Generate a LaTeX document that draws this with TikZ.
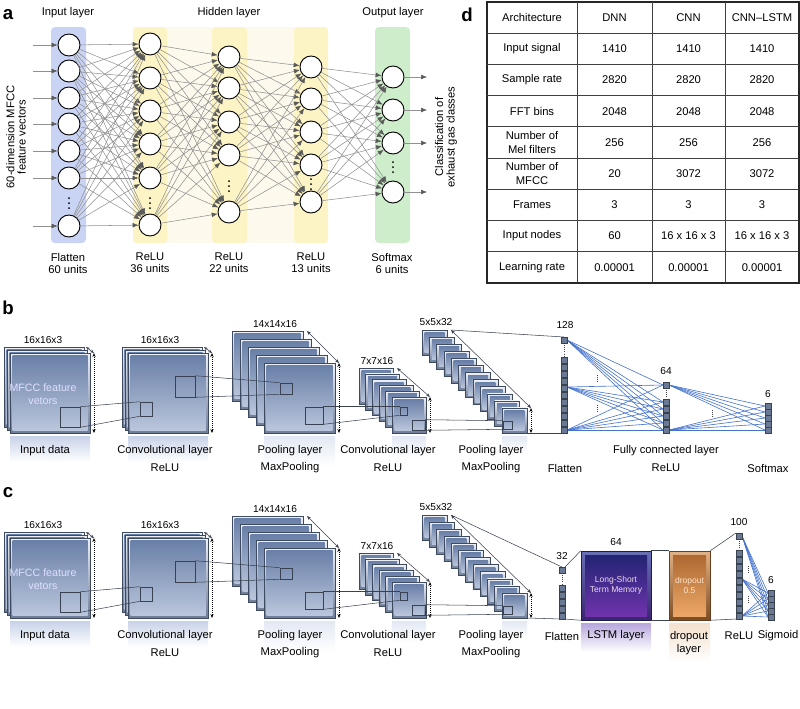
\documentclass[tikz,border=0pt]{standalone}
\usepackage{fontspec}
\setmainfont{Liberation Sans}
\usetikzlibrary{arrows.meta}

\definecolor{inband}{HTML}{C9D3F4}
\definecolor{hidband}{HTML}{FCF4C4}
\definecolor{hidbg}{HTML}{FDF9EC}
\definecolor{outband}{HTML}{CDEDCB}
\definecolor{linkgray}{HTML}{909090}
\definecolor{tipgray}{HTML}{5A5A5A}
\definecolor{sheetedge}{HTML}{3E4A60}
\definecolor{rimtop}{HTML}{EEF1F6}
\definecolor{rimbot}{HTML}{6F7D98}
\definecolor{facetop}{HTML}{6A80A8}
\definecolor{facebot}{HTML}{BAC6DC}
\definecolor{fcblue}{HTML}{4472CC}
\definecolor{unitfill}{HTML}{6A7A95}
\definecolor{unitedge}{HTML}{39424F}
\definecolor{wireline}{HTML}{3A4150}
\definecolor{glowblue}{HTML}{C8D2E8}
\definecolor{glowpale}{HTML}{E2E8F3}
\definecolor{lstmedge}{HTML}{1A1D4D}
\definecolor{lstmrimtop}{HTML}{6870B8}
\definecolor{lstmrimbot}{HTML}{3B2470}
\definecolor{lstmtop}{HTML}{1E2470}
\definecolor{lstmbot}{HTML}{7434B0}
\definecolor{lstmglow}{HTML}{B8A6DC}
\definecolor{dropedge}{HTML}{6B3F1E}
\definecolor{droprimtop}{HTML}{E2B387}
\definecolor{droprimbot}{HTML}{7B4B24}
\definecolor{droptop}{HTML}{A9652E}
\definecolor{dropbot}{HTML}{F0AA6A}
\definecolor{dropglow}{HTML}{F5E0CC}

% one feature map sheet: x, y, width, height (px)
\newcommand\cnnsheet[4]{%
  \path[draw=sheetedge, line width=0.35pt, top color=rimtop, bottom color=rimbot]
    (#1,#2) rectangle ++(#3,#4);
  \path[top color=facetop, bottom color=facebot]
    ({#1+2.5},{#2+2.5}) rectangle ++({#3-5},{#4-5});
}
% one unit of a dense column, centred at x, y
\newcommand\fcunit[2]{%
  \path[draw=unitedge, line width=0.3pt, fill=unitfill]
    ({#1-3},{#2-2.7}) rectangle ++(6,5.4);
}
% three vertical dots, centred at x, y
\newcommand\skipdots[2]{%
  \foreach \dd in {-5,0,5} \fill ({#1},{#2+\dd}) circle (0.75pt);
}

\begin{document}
\begin{tikzpicture}[
    x=0.75pt, y=-0.75pt,
    every node/.style={font=\fontsize{8.4}{9.5}\selectfont, inner sep=1pt},
    small/.style={font=\fontsize{7.6}{9}\selectfont},
    panel/.style={font=\fontsize{14}{16}\selectfont\bfseries},
    neuron/.style={circle, draw=black, fill=white, line width=0.7pt,
                   minimum size=16.5pt, inner sep=0pt},
    link/.style={draw=linkgray, line width=0.4pt,
                 -{Latex[length=4.5pt,width=3.6pt,color=tipgray]}},
    band/.style={rounded corners=3pt},
    win/.style={draw=wireline, line width=0.45pt, inner sep=0pt},
    wire/.style={draw=wireline, line width=0.4pt},
    dimarrow/.style={densely dotted, line width=0.5pt,
                     {Stealth[length=3pt,width=2.4pt]}-{Stealth[length=3pt,width=2.4pt]}},
    diag/.style={draw=wireline, line width=0.4pt,
                 {Stealth[length=3pt,width=2.4pt]}-{Stealth[length=3pt,width=2.4pt]}},
    fc/.style={draw=fcblue, line width=0.45pt},
    dotline/.style={densely dotted, line width=0.6pt, draw=black!75},
    cell/.style={align=center, font=\fontsize{8.4}{10}\selectfont},
    mfcc/.style={align=center, text=white!88!blue, font=\fontsize{8}{9.5}\selectfont},
    glow/.style={top color=glowblue, bottom color=white},
    faint/.style={top color=glowpale, bottom color=white},
    lstmbox/.style={minimum width=52.5pt, minimum height=51.75pt, inner sep=0pt,
                    draw=lstmedge, top color=lstmrimtop, bottom color=lstmrimbot,
                    path picture={\fill[top color=lstmtop, bottom color=lstmbot]
                      ([shift={(3pt,-3pt)}]path picture bounding box.north west) rectangle
                      ([shift={(-3pt,3pt)}]path picture bounding box.south east);},
                    text=white!85!violet, align=center, font=\fontsize{6.4}{7.6}\selectfont},
    dropbox/.style={minimum width=30.75pt, minimum height=51.75pt, inner sep=0pt,
                    draw=dropedge, top color=droprimtop, bottom color=droprimbot,
                    path picture={\fill[top color=droptop, bottom color=dropbot]
                      ([shift={(3pt,-3pt)}]path picture bounding box.north west) rectangle
                      ([shift={(-3pt,3pt)}]path picture bounding box.south east);},
                    text=white!80!orange, align=center, font=\fontsize{6.4}{7.6}\selectfont}
  ]
  \useasboundingbox (0,0) rectangle (800,708);

  % ---------------- a: dense network ----------------
  \node[panel] (tagA) at (8,15) {a};
  \fill[hidbg] (133,27) rectangle (328,243);
  \fill[inband, band] (51,27) rectangle (86,243);
  \fill[hidband, band] (133,27) rectangle (167,243);
  \fill[hidband, band] (212,27) rectangle (247,243);
  \fill[hidband, band] (294,27) rectangle (328,243);
  \fill[outband, band] (375,27) rectangle (410,243);

  \node (inhead) at (68,13) {Input layer};
  \node (hidhead) at (229,13) {Hidden layer};
  \node (outhead) at (393,13) {Output layer};

  \foreach \y [count=\k] in {45,71,98,124,151,178,226} {
    \node[neuron] (inp\k) at (69,\y) {};
    \coordinate (src\k) at (33,\y);
  }
  \foreach \y [count=\k] in {44,78,111,144,178,225}
    \node[neuron] (hida\k) at (150,\y) {};
  \foreach \y [count=\k] in {57,88,122,155,212}
    \node[neuron] (hidb\k) at (229,\y) {};
  \foreach \y [count=\k] in {67,99,132,165,202}
    \node[neuron] (hidc\k) at (311,\y) {};
  \foreach \y [count=\k] in {77,110,143,192} {
    \node[neuron] (outp\k) at (393,\y) {};
    \coordinate (dst\k) at (427,\y);
  }
  \skipdots{69}{203}
  \skipdots{150}{203}
  \skipdots{229}{186}
  \skipdots{311}{184}
  \skipdots{393}{167}

  \foreach \k in {1,...,7} \draw[link] (src\k) -- (inp\k);
  \foreach \i in {1,...,7} \foreach \j in {1,...,6} \draw[link] (inp\i) -- (hida\j);
  \foreach \i in {1,...,6} \foreach \j in {1,...,5} \draw[link] (hida\i) -- (hidb\j);
  \foreach \i in {1,...,5} \foreach \j in {1,...,5} \draw[link] (hidb\i) -- (hidc\j);
  \foreach \i in {1,...,5} \foreach \j in {1,...,4} \draw[link] (hidc\i) -- (outp\j);
  \foreach \k in {1,...,4} \draw[link] (outp\k) -- (dst\k);

  \node[rotate=90, align=center, font=\fontsize{8.4}{8.6}\selectfont] (featlab) at (16,137)
    {60-dimension MFCC\\feature vectors};
  \node[rotate=90, align=center, font=\fontsize{8.4}{8.6}\selectfont] (classlab) at (446,137)
    {Classification of\\exhaust gas classes};
  \node[align=center, font=\fontsize{8.4}{9}\selectfont] (inpfoot) at (68,263) {Flatten\\60 units};
  \node[align=center, font=\fontsize{8.4}{9}\selectfont] (hidafoot) at (150,263) {ReLU\\36 units};
  \node[align=center, font=\fontsize{8.4}{9}\selectfont] (hidbfoot) at (229,263) {ReLU\\22 units};
  \node[align=center, font=\fontsize{8.4}{9}\selectfont] (hidcfoot) at (311,263) {ReLU\\13 units};
  \node[align=center, font=\fontsize{8.4}{9}\selectfont] (outpfoot) at (392,263) {Softmax\\6 units};

  % ---------------- d: table ----------------
  \node[panel] (tagD) at (467,15) {d};
  \draw[line width=0.9pt, draw=black!85] (487,2) rectangle (799,283);
  \foreach \xx in {577,652,725} \draw[line width=0.5pt, draw=black!75] (\xx,2) -- (\xx,283);
  \foreach \r in {1,...,8} \draw[line width=0.5pt, draw=black!75] (487,{2+31.2*\r}) -- (799,{2+31.2*\r});
  \foreach \a/\b/\c/\d [count=\r] in {
      Architecture/DNN/CNN/CNN--LSTM,
      Input signal/1410/1410/1410,
      Sample rate/2820/2820/2820,
      FFT bins/2048/2048/2048,
      {Number of\\Mel filters}/256/256/256,
      {Number of\\MFCC}/20/3072/3072,
      Frames/3/3/3,
      Input nodes/60/16 x 16 x 3/16 x 16 x 3,
      Learning rate/0.00001/0.00001/0.00001} {
    \node[cell] (tab\r-a) at (532,{2+31.2*(\r-0.5)}) {\a};
    \node[cell] (tab\r-b) at (614.5,{2+31.2*(\r-0.5)}) {\b};
    \node[cell] (tab\r-c) at (688.5,{2+31.2*(\r-0.5)}) {\c};
    \node[cell] (tab\r-d) at (762,{2+31.2*(\r-0.5)}) {\d};
  }

  % ---------------- b, c: shared convolution part ----------------
  \foreach \p/\o in {b/0,c/185} {
    \begin{scope}[shift={(0,\o)}]
      \node[panel] (\p tag) at (8,308) {\p};
      \fill[glow] (10,436) rectangle (90,462);
      \fill[glow] (128,436) rectangle (208,462);
      \fill[faint] (264,436) rectangle (335,466);
      \fill[faint] (392,436) rectangle (426,458);
      \fill[faint] (502,436) rectangle (527,452);

      % input data
      \foreach \k in {0,1,2} {\cnnsheet{4+3*\k}{347+3*\k}{80}{80}}
      \node[small] (\p indim) at (43,340) {16x16x3};
      \node[mfcc] (\p intxt) at (43,394) {MFCC feature\\vetors};
      \node[win, minimum width=15pt, minimum height=15pt] (\p inwin) at (70,417) {};
      \draw[diag] (86,347) -- (94,353);
      \draw[dimarrow] (94,353) -- (94,433);
      \node (\p inlab) at (45,451) {Input data};

      % first convolution
      \foreach \k in {0,1,2} {\cnnsheet{122+3*\k}{347+3*\k}{80}{80}}
      \node[small] (\p convdim) at (160,340) {16x16x3};
      \node[win, minimum width=9pt, minimum height=10.5pt] (\p convwin) at (146,409) {};
      \node[win, minimum width=15pt, minimum height=15.75pt] (\p convbig) at (185,386.5) {};
      \draw[diag] (204,347) -- (212,353);
      \draw[dimarrow] (212,353) -- (212,433);
      \node (\p convlab) at (165,451) {Convolutional layer};
      \node (\p convact) at (165,468) {ReLU};

      % first pooling
      \foreach \k in {0,...,4} {\cnnsheet{232+8*\k}{331+8*\k}{71}{70}}
      \node[small] (\p pooldim) at (275,324) {14x14x16};
      \node[win, minimum width=9pt, minimum height=8.25pt] (\p poolwin) at (286,388.5) {};
      \node[win, minimum width=13.5pt, minimum height=12.75pt] (\p poolbig) at (314,415.5) {};
      \draw[diag] (307,331) -- (339,363);
      \draw[dimarrow] (339,363) -- (339,433);
      \node (\p poollab) at (290,451) {Pooling layer};
      \node (\p poolact) at (290,468) {MaxPooling};

      % second convolution
      \foreach \k in {0,...,5} {\cnnsheet{359+6.6*\k}{368+5.8*\k}{34}{36}}
      \node[small] (\p convbdim) at (377,361) {7x7x16};
      \node[win, minimum width=5.25pt, minimum height=6pt] (\p convbwin) at (403.5,411) {};
      \node[win, minimum width=9.75pt, minimum height=7.5pt] (\p convbbig) at (418.5,425) {};
      \draw[diag] (397,368) -- (430,397);
      \draw[dimarrow] (430,397) -- (430,433);
      \node (\p convblab) at (388,451) {Convolutional layer};
      \node (\p convbact) at (388,468) {ReLU};

      % second pooling
      \foreach \k in {0,...,11} {\cnnsheet{422+7.27*\k}{330+7.09*\k}{25}{25}}
      \node[small] (\p poolbdim) at (436,322) {5x5x32};
      \node[win, minimum width=6.75pt, minimum height=6pt] (\p poolbwin) at (507.5,425) {};
      \draw[diag] (451,330) -- (531,408);
      \draw[dimarrow] (531,408) -- (531,433);
      \node (\p poolblab) at (491,451) {Pooling layer};
      \node (\p poolbact) at (491,468) {MaxPooling};
      \coordinate (\p pooltop) at (451,330);
      \coordinate (\p poolbot) at (527,433);

      \draw[wire] (\p inwin.north east) -- (\p convwin.north west);
      \draw[wire] (\p inwin.south east) -- (\p convwin.south west);
      \draw[wire] (\p convbig.north east) -- (\p poolwin.north west);
      \draw[wire] (\p convbig.south east) -- (\p poolwin.south west);
      \draw[wire] (\p poolbig.north east) -- (\p convbwin.north west);
      \draw[wire] (\p poolbig.south east) -- (\p convbwin.south west);
      \draw[wire] (\p convbbig.north east) -- (\p poolbwin.north west);
      \draw[wire] (\p convbbig.south east) -- (\p poolbwin.south west);
    \end{scope}
  }

  % ---------------- b: dense head ----------------
  \coordinate (bflattop) at (564,337);
  \coordinate (bflatbot) at (564,433);
  \draw[wire] (bpooltop) -- (bflattop);
  \draw[wire] (bpoolbot) -- (bflatbot);
  \foreach \y [count=\k] in {340,387,430} \coordinate (bf\k) at (567,\y);
  \foreach \y [count=\k] in {385,402,409,416,423,430} \coordinate (br\k) at (663,\y);
  \coordinate (brs1) at (669,385);
  \coordinate (brs2) at (669,430);
  \foreach \y [count=\k] in {406,412,418,424,430} \coordinate (bs\k) at (765,\y);
  \foreach \i in {1,2,3} \foreach \j in {1,...,6} \draw[fc] (bf\i) -- (br\j);
  \foreach \i in {1,2} \foreach \j in {1,...,5} \draw[fc] (brs\i) -- (bs\j);
  \foreach \y in {340,360,367,374,381,388,395,402,409,416,423,430} {\fcunit{564}{\y}}
  \foreach \y in {385,402,409,416,423,430} {\fcunit{666}{\y}}
  \foreach \y in {406,412,418,424,430} {\fcunit{768}{\y}}
  \draw[dotline] (564,345) -- (564,356);
  \draw[dotline] (666,390) -- (666,398);
  \draw[dotline] (597,375) -- (597,383);
  \draw[dotline] (597,405) -- (597,413);
  \draw[dotline] (712,410) -- (712,418);
  \node[small] (bflatdim) at (565,325) {128};
  \node[small] (breludim) at (666,371) {64};
  \node[small] (bsoftdim) at (768,394) {6};
  \node (bflatlab) at (565,468) {Flatten};
  \node (bfclab) at (666,451) {Fully connected layer};
  \node (brelulab) at (666,468) {ReLU};
  \node (bsoftlab) at (768,468) {Softmax};

  % ---------------- c: recurrent head ----------------
  \coordinate (cflattop) at (562,567);
  \coordinate (cflatbot) at (562,619);
  \draw[wire] (cpooltop) -- (cflattop);
  \draw[wire] (cpoolbot) -- (cflatbot);
  \fill[top color=lstmglow, bottom color=white] (581,623) rectangle (651,652);
  \fill[top color=dropglow, bottom color=white] (669,623) rectangle (710,662);
  \node[lstmbox] (lstm) at (616,585.5) {Long-Short\\Term Memory};
  \node[dropbox] (drop) at (689.5,585.5) {dropout\\0.5};
  \coordinate (cflatup) at (565,567);
  \coordinate (cflatlow) at (565,619);
  \coordinate (creluup) at (736,533);
  \coordinate (crelulow) at (736,619);
  \draw[wire] (cflatup) -- (lstm.north west);
  \draw[wire] (cflatlow) -- (lstm.south west);
  \draw[wire] (lstm.north east) -- (drop.north west);
  \draw[wire] (lstm.south east) -- (drop.south west);
  \draw[wire] (drop.north east) -- (creluup);
  \draw[wire] (drop.south east) -- (crelulow);
  \foreach \y [count=\k] in {536,579,616} \coordinate (cr\k) at (742,\y);
  \foreach \y [count=\k] in {593,599,605,611,617} \coordinate (cs\k) at (768,\y);
  \foreach \i in {1,2,3} \foreach \j in {1,...,5} \draw[fc] (cr\i) -- (cs\j);
  \foreach \y in {570,588,595,602,609,616} {\fcunit{562}{\y}}
  \foreach \y in {536,553,560,567,574,581,588,595,602,609,616} {\fcunit{739}{\y}}
  \foreach \y in {593,599,605,611,617} {\fcunit{771}{\y}}
  \draw[dotline] (562,575) -- (562,584);
  \draw[dotline] (739,541) -- (739,549);
  \draw[dotline] (748,566) -- (748,574);
  \draw[dotline] (748,596) -- (748,604);
  \node[small] (cflatdim) at (562,556) {32};
  \node[small] (clstmdim) at (616,542) {64};
  \node[small] (creludim) at (739,522) {100};
  \node[small] (csigdim) at (771,580) {6};
  \node (cflatlab) at (562,636) {Flatten};
  \node (clstmlab) at (616,636) {LSTM layer};
  \node[align=center, font=\fontsize{8.4}{10}\selectfont] (cdroplab) at (689,643) {dropout\\layer};
  \node (crelulab) at (739,636) {ReLU};
  \node (csiglab) at (778,636) {Sigmoid};
\end{tikzpicture}
\end{document}
